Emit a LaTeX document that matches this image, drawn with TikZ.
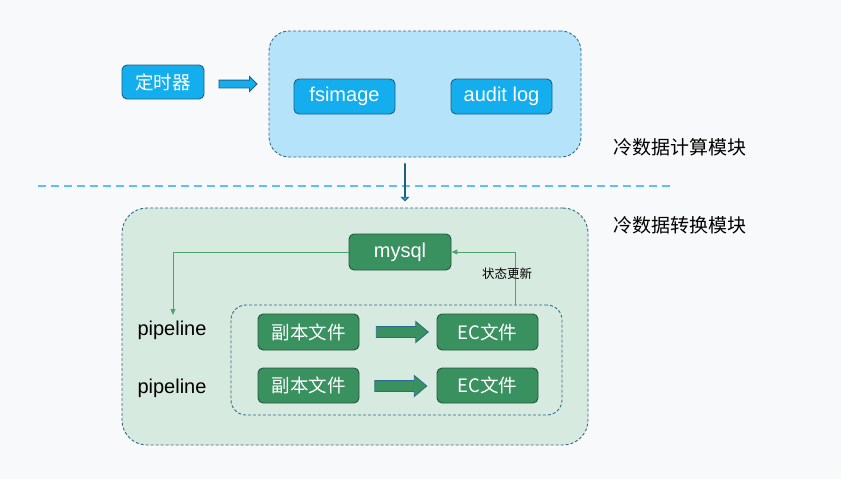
\documentclass[tikz,border=0pt]{standalone}
\usepackage{fontspec}
\setmainfont{Liberation Sans}
\newfontfamily\cjk{Noto Sans CJK SC}
\usetikzlibrary{shapes.arrows,arrows.meta}
\definecolor{bgc}{HTML}{F8F9FA}
\definecolor{bluef}{HTML}{14AEEF}
\definecolor{blued}{HTML}{1F5F80}
\definecolor{lblue}{HTML}{B5E4FA}
\definecolor{dashd}{HTML}{2D6C8C}
\definecolor{greenf}{HTML}{3A9160}
\definecolor{greend}{HTML}{22573A}
\definecolor{lgreen}{HTML}{D7EADF}
\definecolor{gline}{HTML}{4DA36C}
\definecolor{sepc}{HTML}{5DC1EE}
\tikzset{
  bbox/.style={draw=blued, fill=bluef, line width=0.9pt, rounded corners=5pt, text=white, inner sep=0pt},
  gbox/.style={draw=greend, fill=greenf, line width=0.9pt, rounded corners=5pt, text=white, inner sep=0pt},
  cont/.style={draw=dashd, line width=0.9pt, dash pattern=on 3pt off 2pt, inner sep=0pt},
  barrow/.style={shape=single arrow, draw=blued, fill=bluef, line width=0.9pt, inner sep=0pt, single arrow head extend=3.5pt, single arrow tip angle=90},
  garrow/.style={shape=single arrow, draw=dashd, fill=greenf, line width=0.9pt, inner sep=0pt, single arrow head extend=5pt, single arrow tip angle=80},
  gconn/.style={draw=gline, line width=1pt, -{Triangle[length=6pt,width=5pt]}},
  big/.style={font=\fontsize{20}{22}\selectfont},
  bigc/.style={font=\cjk\fontsize{18.5}{20}\selectfont},
}
\begin{document}
\begin{tikzpicture}[x=1pt,y=-1pt]
\fill[bgc] (0,0) rectangle (841,479);
\useasboundingbox (0,0) rectangle (841,479);

% top container
\node[cont, fill=lblue, rounded corners=20pt, minimum width=312pt, minimum height=126pt] (topc) at (425,94) {};
\node[bbox, bigc, minimum width=82pt, minimum height=34pt] (timer) at (163,82) {定时器};
\node[bbox, big, minimum width=101pt, minimum height=35pt] (fsi) at (344.5,96.5) {fsimage};
\node[bbox, big, minimum width=101pt, minimum height=35pt] (audit) at (501.5,96.5) {audit log};
\node[barrow, minimum height=38pt, inner ysep=3.5pt] (a1) at (236,84) {};

% separator
\coordinate (s1) at (38,186);
\coordinate (s2) at (672,186);
\draw[sepc, line width=1.2pt, dash pattern=on 8pt off 5pt] (s1) -- (s2);
\node[barrow, minimum height=37pt, inner ysep=4pt, single arrow head extend=3pt, shape border rotate=270] (a2) at (405,182) {};

\node[font=\cjk\fontsize{19}{21}\selectfont] (lab1) at (680,147) {冷数据计算模块};
\node[font=\cjk\fontsize{19}{21}\selectfont] (lab2) at (680,225) {冷数据转换模块};

% bottom container
\node[cont, fill=lgreen, rounded corners=25pt, minimum width=466pt, minimum height=237pt] (botc) at (355,326.5) {};
\node[cont, rounded corners=15pt, minimum width=331pt, minimum height=110pt] (inner) at (396.5,360) {};
\node[gbox, big, minimum width=102pt, minimum height=36pt] (mysql) at (400,252) {mysql};

\node[gbox, bigc, minimum width=101pt, minimum height=36pt] (r1) at (308.5,332) {副本文件};
\node[gbox, bigc, minimum width=101pt, minimum height=36pt] (e1) at (487.5,332) {EC文件};
\node[gbox, bigc, minimum width=101pt, minimum height=35pt] (r2) at (308.5,385.5) {副本文件};
\node[gbox, bigc, minimum width=101pt, minimum height=35pt] (e2) at (487.5,385.5) {EC文件};
\node[garrow, minimum height=52pt, inner ysep=5pt] (g1) at (399,332) {};
\node[garrow, minimum height=52pt, inner ysep=5pt] (g2) at (397.5,386) {};

\node[big] (p1) at (172,330) {pipeline};
\node[big] (p2) at (172,388) {pipeline};

\coordinate (pin) at (173,315);
\coordinate (upd) at (515,305);
\draw[gconn] (mysql.west) -| (pin);
\draw[gconn] (upd) |- (mysql.east);
\node[font=\cjk\fontsize{12.5}{14}\selectfont] (st) at (507,274) {状态更新};
\end{tikzpicture}
\end{document}
